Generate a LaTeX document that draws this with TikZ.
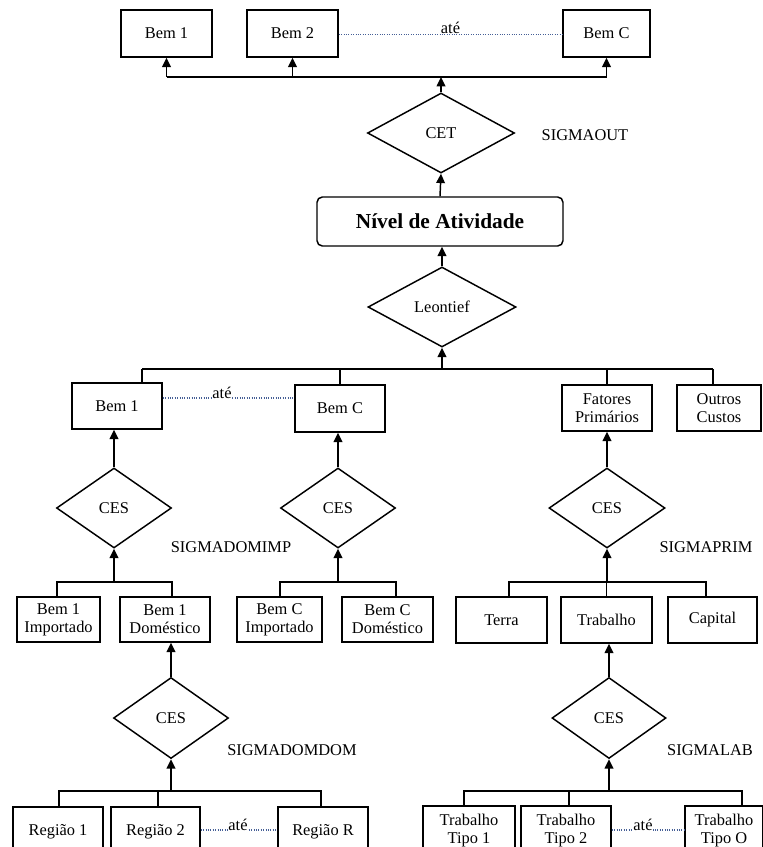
\documentclass[tikz,border=0pt]{standalone}
\usepackage{fontspec}
\setmainfont{Liberation Serif}
\usetikzlibrary{shapes.geometric,arrows.meta,calc}
\newcommand\lblfont{\fontsize{12.3}{13.5}\selectfont}
\tikzset{
  bx/.style 2 args={draw, rectangle, line width=1.1pt, minimum width=#1*0.75pt, minimum height=#2*0.75pt, inner sep=0pt, align=center, font=\lblfont},
  dia/.style 2 args={draw, diamond, line width=1.1pt, minimum width=#1*0.75pt, minimum height=#2*0.75pt, inner sep=0pt, font=\lblfont},
  lnk/.style={line width=1.1pt},
  arr/.style={line width=1.1pt, -{Triangle[width=6.5pt,length=7pt]}},
  dotl/.style={line width=0.8pt, color=dotc, dash pattern=on 0.7pt off 1.1pt},
  ate/.style={fill=white, inner sep=0.5pt, anchor=base, font=\lblfont},
  sig/.style={font=\lblfont, inner sep=0pt}
}
\definecolor{dotc}{RGB}{70,95,150}
\begin{document}
\begin{tikzpicture}[x=0.75pt,y=-0.75pt]
\useasboundingbox (0,0) rectangle (763,847);
\clip (0,0) rectangle (763,847);
% top row
\node[bx={91}{47}] (tb1) at (166.5,33.5) {Bem 1};
\node[bx={91}{47}] (tb2) at (292.5,33.5) {Bem 2};
\node[bx={87}{47}] (tbc) at (606.5,33.5) {Bem C};
\coordinate (bus1) at (0,77);
\draw[lnk] (tb1.south |- bus1) -- (tbc.south |- bus1);
\draw[arr] (tb1.south |- bus1) -- (tb1.south);
\draw[arr] (tb2.south |- bus1) -- (tb2.south);
\draw[arr] (tbc.south |- bus1) -- (tbc.south);
\draw[dotl] ($(tb2.east)+(0,1)$) -- ($(tbc.west)+(0,1)$);
\node[ate] (ate1) at ($(tb2.east)!0.5!(tbc.west)+(0,0)$) {até};
% CET
\node[dia={147}{80}] (cet) at (441,133) {CET};
\node[sig] (sigout) at (585,135) {SIGMAOUT};
\draw[arr] (cet.north) -- (cet.north |- bus1);
\node[draw, rectangle, rounded corners=4pt, line width=1.1pt, minimum width=246*0.75pt, minimum height=49*0.75pt, font=\fontsize{16}{18}\selectfont\bfseries] (niv) at (440,221.5) {Nível de Atividade};
\draw[arr] (niv.north) -- (cet.south);
\node[dia={148}{80}] (leo) at (442,307) {Leontief};
\draw[arr] (leo.north) -- (leo.north |- niv.south);
% middle row
\coordinate (bus2) at (0,369);
\node[bx={90}{46}] (mb1) at (117,406) {Bem 1};
\node[bx={90}{47}] (mbc) at (340,408.5) {Bem C};
\node[bx={90}{46}] (fp) at (607,408) {Fatores\\Primários};
\node[bx={84}{46}] (oc) at (719,408) {Outros\\Custos};
\coordinate (c1) at (142,369);
\coordinate (c4) at (713,369);
\draw[lnk] (c1) -- (c4);
\draw[lnk] (c1) -- (c1 |- mb1.north);
\draw[lnk] (mbc.north |- bus2) -- (mbc.north);
\draw[lnk] (fp.north |- bus2) -- (fp.north);
\draw[lnk] (c4) -- (c4 |- oc.north);
\draw[arr] (leo.south |- bus2) -- (leo.south);
\draw[dotl] ($(mb1.east)+(0,-8)$) -- ($(mbc.west)+(0,-10.5)$);
\node[ate] (ate2) at (222,398) {até};
% CES row
\node[dia={115}{80}] (cesL) at (114,508) {CES};
\node[dia={115}{80}] (cesM) at (338,508) {CES};
\node[dia={116}{80}] (cesR) at (607,508) {CES};
\node[sig] (sigimp) at (231,547) {SIGMADOMIMP};
\node[sig] (sigprim) at (706,547) {SIGMAPRIM};
\draw[arr] (cesL.north) -- (cesL.north |- mb1.south);
\draw[arr] (cesM.north) -- (cesM.north |- mbc.south);
\draw[arr] (cesR.north) -- (cesR.north |- fp.south);
% sub boxes
\coordinate (bus3) at (0,582);
\node[bx={83}{45}] (bi1) at (58.5,619.5) {Bem 1\\Importado};
\node[bx={90}{45}] (bd1) at (165,619.5) {Bem 1\\Doméstico};
\node[bx={85}{45}] (bic) at (279.5,619.5) {Bem C\\Importado};
\node[bx={91}{45}] (bdc) at (387.5,619.5) {Bem C\\Doméstico};
\node[bx={91}{46}] (terra) at (501.5,620) {Terra};
\node[bx={91}{46}] (trab) at (606.5,620) {Trabalho};
\node[bx={89}{46}] (cap) at (712.5,620) {Capital};
\coordinate (d1) at (57,582);
\coordinate (d2) at (172,582);
\coordinate (d3) at (280,582);
\coordinate (d4) at (396,582);
\coordinate (d5) at (509,582);
\coordinate (d6) at (706,582);
\draw[lnk] (d1 |- bi1.north) -- (d1) -- (d2) -- (d2 |- bd1.north);
\draw[lnk] (d3 |- bic.north) -- (d3) -- (d4) -- (d4 |- bdc.north);
\draw[lnk] (d5 |- terra.north) -- (d5) -- (d6) -- (d6 |- cap.north);
\draw[lnk] (trab.north) -- (trab.north |- bus3);
\draw[arr] (cesL.south |- bus3) -- (cesL.south);
\draw[arr] (cesM.south |- bus3) -- (cesM.south);
\draw[arr] (cesR.south |- bus3) -- (cesR.south);
% lower CES
\node[dia={115}{81}] (cesD) at (171,718) {CES};
\node[dia={114}{81}] (cesT) at (609,718) {CES};
\node[sig] (sigdd) at (292,750) {SIGMADOMDOM};
\node[sig] (siglab) at (710,750) {SIGMALAB};
\draw[arr] (cesD.north) -- (cesD.north |- bd1.south);
\draw[arr] (cesT.north) -- (cesT.north |- trab.south);
% bottom row
\coordinate (bus4) at (0,791);
\node[bx={90}{50}] (r1) at (58,832) {Região 1};
\node[bx={89}{50}] (r2) at (155.5,832) {Região 2};
\node[bx={90}{50}] (rr) at (323,832) {Região R};
\node[bx={92}{50}] (t1) at (469,831) {Trabalho\\Tipo 1};
\node[bx={90}{50}] (t2) at (566,831) {Trabalho\\Tipo 2};
\node[bx={78}{50}] (to) at (724,831) {Trabalho\\Tipo O};
\coordinate (e1) at (59,791);
\coordinate (e2) at (158,791);
\coordinate (e3) at (321,791);
\coordinate (f1) at (464,791);
\coordinate (f2) at (569,791);
\coordinate (f3) at (742,791);
\draw[lnk] (e1 |- r1.north) -- (e1) -- (e3) -- (e3 |- rr.north);
\draw[lnk] (e2) -- (e2 |- r2.north);
\draw[lnk] (f1 |- t1.north) -- (f1) -- (f3) -- (f3 |- to.north);
\draw[lnk] (f2) -- (f2 |- t2.north);
\draw[arr] (cesD.south |- bus4) -- (cesD.south);
\draw[arr] (cesT.south |- bus4) -- (cesT.south);
\draw[dotl] ($(r2.east)+(0,-2)$) -- ($(rr.west)+(0,-2)$);
\node[ate] (ate3) at (238,830) {até};
\draw[dotl] ($(t2.east)+(0,-1)$) -- ($(to.west)+(0,-1)$);
\node[ate] (ate4) at (643,830) {até};
\end{tikzpicture}
\end{document}
